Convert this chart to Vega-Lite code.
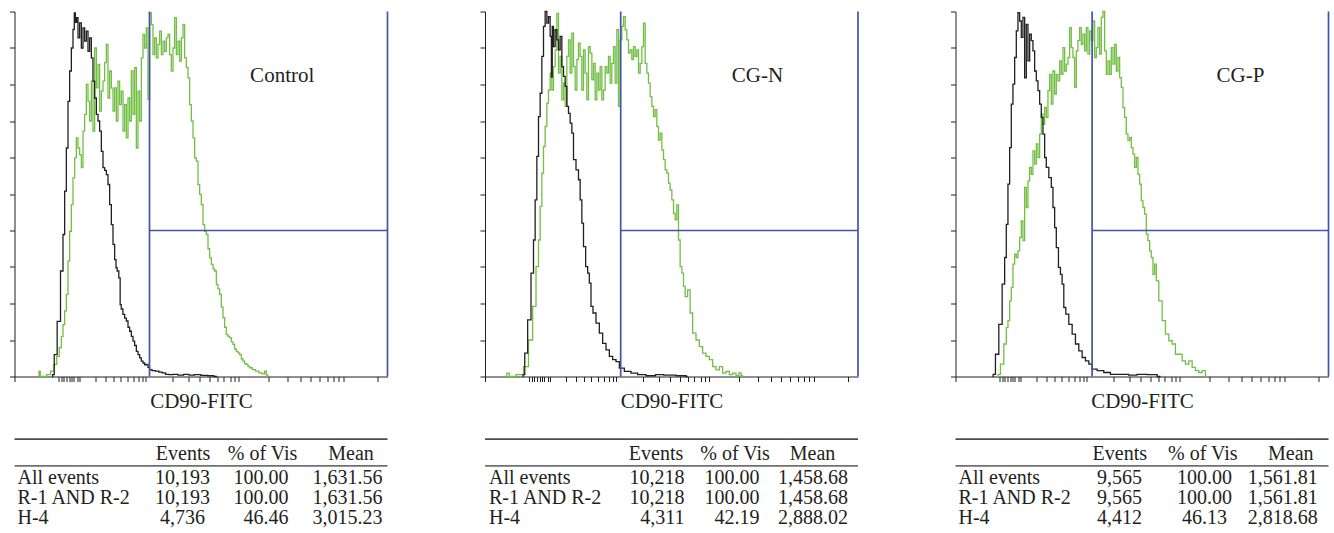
{
"$schema": "https://vega.github.io/schema/vega-lite/v6.json",
"padding": {"left": 8.5, "top": 8.5, "right": 2, "bottom": 2},
"autosize": {"type": "pad"},
"bounds": "flush",
"columns": 3,
"spacing": {"row": 62, "column": 97.5},
"config": {
  "view": {"stroke": null},
  "axis": {"grid": false, "labels": false, "domainColor": "#231f20", "tickColor": "#231f20", "tickSize": 5, "domainWidth": 1, "tickWidth": 1, "titleFont": "Liberation Serif", "titleFontSize": 21, "titleFontWeight": "normal", "titleColor": "#231f20"},
  "text": {"font": "Liberation Serif", "color": "#231f20"}
},
"datasets": {
"curves": [
{"panel":"Control","series":"isotype","channel":37.7,"count":0},
{"panel":"Control","series":"isotype","channel":38.5,"count":0.5},
{"panel":"Control","series":"isotype","channel":41,"count":6},
{"panel":"Control","series":"isotype","channel":44.3,"count":15.1},
{"panel":"Control","series":"isotype","channel":47.7,"count":28.9},
{"panel":"Control","series":"isotype","channel":49.3,"count":38.9},
{"panel":"Control","series":"isotype","channel":51,"count":50.8},
{"panel":"Control","series":"isotype","channel":52.7,"count":62.6},
{"panel":"Control","series":"isotype","channel":54.3,"count":75.4},
{"panel":"Control","series":"isotype","channel":56,"count":83.7},
{"panel":"Control","series":"isotype","channel":57.7,"count":90},
{"panel":"Control","series":"isotype","channel":59.3,"count":95.1},
{"panel":"Control","series":"isotype","channel":60.3,"count":99.6},
{"panel":"Control","series":"isotype","channel":61.5,"count":97},
{"panel":"Control","series":"isotype","channel":62.7,"count":98.3},
{"panel":"Control","series":"isotype","channel":64.3,"count":92.8},
{"panel":"Control","series":"isotype","channel":66,"count":96.9},
{"panel":"Control","series":"isotype","channel":67.7,"count":90},
{"panel":"Control","series":"isotype","channel":69.3,"count":95.5},
{"panel":"Control","series":"isotype","channel":71,"count":91.9},
{"panel":"Control","series":"isotype","channel":72.7,"count":94.6},
{"panel":"Control","series":"isotype","channel":74.3,"count":89.1},
{"panel":"Control","series":"isotype","channel":76,"count":92.8},
{"panel":"Control","series":"isotype","channel":77.7,"count":87.3},
{"panel":"Control","series":"isotype","channel":79.3,"count":80.9},
{"panel":"Control","series":"isotype","channel":81,"count":76.3},
{"panel":"Control","series":"isotype","channel":82.7,"count":71.8},
{"panel":"Control","series":"isotype","channel":84.3,"count":70},
{"panel":"Control","series":"isotype","channel":86,"count":67.2},
{"panel":"Control","series":"isotype","channel":87.7,"count":61.7},
{"panel":"Control","series":"isotype","channel":89.3,"count":57.2},
{"panel":"Control","series":"isotype","channel":91,"count":56.5},
{"panel":"Control","series":"isotype","channel":92.7,"count":55.3},
{"panel":"Control","series":"isotype","channel":94.3,"count":52.6},
{"panel":"Control","series":"isotype","channel":96,"count":47.1},
{"panel":"Control","series":"isotype","channel":97.7,"count":41.6},
{"panel":"Control","series":"isotype","channel":99.3,"count":36.2},
{"panel":"Control","series":"isotype","channel":101,"count":32},
{"panel":"Control","series":"isotype","channel":102,"count":29.8},
{"panel":"Control","series":"isotype","channel":103.3,"count":28.9},
{"panel":"Control","series":"isotype","channel":105.3,"count":27},
{"panel":"Control","series":"isotype","channel":106,"count":19.7},
{"panel":"Control","series":"isotype","channel":107.5,"count":18.5},
{"panel":"Control","series":"isotype","channel":109.3,"count":17},
{"panel":"Control","series":"isotype","channel":111,"count":16},
{"panel":"Control","series":"isotype","channel":112.7,"count":15.2},
{"panel":"Control","series":"isotype","channel":114.3,"count":13.5},
{"panel":"Control","series":"isotype","channel":116,"count":12.4},
{"panel":"Control","series":"isotype","channel":117.7,"count":11},
{"panel":"Control","series":"isotype","channel":119.3,"count":9.7},
{"panel":"Control","series":"isotype","channel":121,"count":8.5},
{"panel":"Control","series":"isotype","channel":122.7,"count":6.9},
{"panel":"Control","series":"isotype","channel":124.3,"count":6},
{"panel":"Control","series":"isotype","channel":126,"count":5.1},
{"panel":"Control","series":"isotype","channel":127.7,"count":4.2},
{"panel":"Control","series":"isotype","channel":129.3,"count":3.7},
{"panel":"Control","series":"isotype","channel":131,"count":3.2},
{"panel":"Control","series":"isotype","channel":132.7,"count":3.3},
{"panel":"Control","series":"isotype","channel":134.3,"count":2.5},
{"panel":"Control","series":"isotype","channel":136,"count":1.9},
{"panel":"Control","series":"isotype","channel":139,"count":1.6},
{"panel":"Control","series":"isotype","channel":142.7,"count":1.5},
{"panel":"Control","series":"isotype","channel":146,"count":1.2},
{"panel":"Control","series":"isotype","channel":149.3,"count":1},
{"panel":"Control","series":"isotype","channel":152.7,"count":0.6},
{"panel":"Control","series":"isotype","channel":156,"count":0.5},
{"panel":"Control","series":"isotype","channel":161,"count":0.6},
{"panel":"Control","series":"isotype","channel":166,"count":0.4},
{"panel":"Control","series":"isotype","channel":172,"count":0.6},
{"panel":"Control","series":"isotype","channel":177,"count":0.4},
{"panel":"Control","series":"isotype","channel":182.7,"count":0.5},
{"panel":"Control","series":"isotype","channel":190,"count":0.3},
{"panel":"Control","series":"isotype","channel":196,"count":0.2},
{"panel":"Control","series":"isotype","channel":202.7,"count":0},
{"panel":"Control","series":"CD90","channel":24,"count":0},
{"panel":"Control","series":"CD90","channel":25,"count":1.5},
{"panel":"Control","series":"CD90","channel":26.5,"count":0},
{"panel":"Control","series":"CD90","channel":30,"count":0},
{"panel":"Control","series":"CD90","channel":34.3,"count":0.5},
{"panel":"Control","series":"CD90","channel":38,"count":1.5},
{"panel":"Control","series":"CD90","channel":41,"count":3.3},
{"panel":"Control","series":"CD90","channel":43.5,"count":5.5},
{"panel":"Control","series":"CD90","channel":46,"count":7.9},
{"panel":"Control","series":"CD90","channel":47.7,"count":11},
{"panel":"Control","series":"CD90","channel":49.3,"count":14.2},
{"panel":"Control","series":"CD90","channel":51,"count":18},
{"panel":"Control","series":"CD90","channel":52.7,"count":22.5},
{"panel":"Control","series":"CD90","channel":54.3,"count":31.6},
{"panel":"Control","series":"CD90","channel":56,"count":39.8},
{"panel":"Control","series":"CD90","channel":57.7,"count":47.1},
{"panel":"Control","series":"CD90","channel":59.3,"count":54.4},
{"panel":"Control","series":"CD90","channel":61,"count":59.9},
{"panel":"Control","series":"CD90","channel":62.7,"count":65.4},
{"panel":"Control","series":"CD90","channel":64.3,"count":62.6},
{"panel":"Control","series":"CD90","channel":66,"count":60.8},
{"panel":"Control","series":"CD90","channel":67.7,"count":57.2},
{"panel":"Control","series":"CD90","channel":69.3,"count":67.2},
{"panel":"Control","series":"CD90","channel":71,"count":71.8},
{"panel":"Control","series":"CD90","channel":72.7,"count":80},
{"panel":"Control","series":"CD90","channel":74.3,"count":75.4},
{"panel":"Control","series":"CD90","channel":76,"count":70},
{"panel":"Control","series":"CD90","channel":77.7,"count":80.9},
{"panel":"Control","series":"CD90","channel":79.3,"count":67.2},
{"panel":"Control","series":"CD90","channel":81,"count":90},
{"panel":"Control","series":"CD90","channel":82.7,"count":79.1},
{"panel":"Control","series":"CD90","channel":84.3,"count":85.5},
{"panel":"Control","series":"CD90","channel":86,"count":72.7},
{"panel":"Control","series":"CD90","channel":87.7,"count":78.2},
{"panel":"Control","series":"CD90","channel":89.3,"count":80.9},
{"panel":"Control","series":"CD90","channel":91,"count":86},
{"panel":"Control","series":"CD90","channel":92.7,"count":91},
{"panel":"Control","series":"CD90","channel":94.3,"count":76.3},
{"panel":"Control","series":"CD90","channel":96,"count":83.7},
{"panel":"Control","series":"CD90","channel":97.7,"count":79},
{"panel":"Control","series":"CD90","channel":99.3,"count":72.7},
{"panel":"Control","series":"CD90","channel":101,"count":79.1},
{"panel":"Control","series":"CD90","channel":102.7,"count":70},
{"panel":"Control","series":"CD90","channel":104.3,"count":80.9},
{"panel":"Control","series":"CD90","channel":106,"count":74.5},
{"panel":"Control","series":"CD90","channel":107.7,"count":78.2},
{"panel":"Control","series":"CD90","channel":109.3,"count":67.2},
{"panel":"Control","series":"CD90","channel":111,"count":74.5},
{"panel":"Control","series":"CD90","channel":112.7,"count":65.4},
{"panel":"Control","series":"CD90","channel":114.3,"count":76.3},
{"panel":"Control","series":"CD90","channel":116,"count":70},
{"panel":"Control","series":"CD90","channel":117.7,"count":83.7},
{"panel":"Control","series":"CD90","channel":119.3,"count":71.8},
{"panel":"Control","series":"CD90","channel":121,"count":84.6},
{"panel":"Control","series":"CD90","channel":122.7,"count":62.6},
{"panel":"Control","series":"CD90","channel":124.3,"count":78.2},
{"panel":"Control","series":"CD90","channel":126,"count":70},
{"panel":"Control","series":"CD90","channel":127.7,"count":87.3},
{"panel":"Control","series":"CD90","channel":129.3,"count":93.7},
{"panel":"Control","series":"CD90","channel":131,"count":90},
{"panel":"Control","series":"CD90","channel":132.7,"count":95.5},
{"panel":"Control","series":"CD90","channel":134.3,"count":75.9},
{"panel":"Control","series":"CD90","channel":136,"count":99.6},
{"panel":"Control","series":"CD90","channel":137.7,"count":96.4},
{"panel":"Control","series":"CD90","channel":139.3,"count":88.2},
{"panel":"Control","series":"CD90","channel":141,"count":92.8},
{"panel":"Control","series":"CD90","channel":142.7,"count":87.3},
{"panel":"Control","series":"CD90","channel":144.3,"count":91},
{"panel":"Control","series":"CD90","channel":146,"count":94.6},
{"panel":"Control","series":"CD90","channel":147.7,"count":88.2},
{"panel":"Control","series":"CD90","channel":149.3,"count":91.9},
{"panel":"Control","series":"CD90","channel":151,"count":89.1},
{"panel":"Control","series":"CD90","channel":152.7,"count":92.8},
{"panel":"Control","series":"CD90","channel":154.3,"count":93.7},
{"panel":"Control","series":"CD90","channel":156,"count":88.2},
{"panel":"Control","series":"CD90","channel":157.7,"count":83.7},
{"panel":"Control","series":"CD90","channel":159.3,"count":90},
{"panel":"Control","series":"CD90","channel":161,"count":98.3},
{"panel":"Control","series":"CD90","channel":162.7,"count":88.2},
{"panel":"Control","series":"CD90","channel":164.3,"count":91.9},
{"panel":"Control","series":"CD90","channel":166,"count":86.4},
{"panel":"Control","series":"CD90","channel":167.7,"count":92.8},
{"panel":"Control","series":"CD90","channel":169.3,"count":96.4},
{"panel":"Control","series":"CD90","channel":171,"count":87.3},
{"panel":"Control","series":"CD90","channel":172.7,"count":84.6},
{"panel":"Control","series":"CD90","channel":174.3,"count":81.8},
{"panel":"Control","series":"CD90","channel":176,"count":74.5},
{"panel":"Control","series":"CD90","channel":177.7,"count":70},
{"panel":"Control","series":"CD90","channel":179.3,"count":65.4},
{"panel":"Control","series":"CD90","channel":181,"count":59.9},
{"panel":"Control","series":"CD90","channel":182.7,"count":59},
{"panel":"Control","series":"CD90","channel":184.3,"count":52.6},
{"panel":"Control","series":"CD90","channel":186,"count":49.9},
{"panel":"Control","series":"CD90","channel":187.7,"count":47.1},
{"panel":"Control","series":"CD90","channel":189.3,"count":41.6},
{"panel":"Control","series":"CD90","channel":191,"count":39.8},
{"panel":"Control","series":"CD90","channel":192.7,"count":38.9},
{"panel":"Control","series":"CD90","channel":194.3,"count":35},
{"panel":"Control","series":"CD90","channel":196,"count":32.5},
{"panel":"Control","series":"CD90","channel":197.7,"count":30.7},
{"panel":"Control","series":"CD90","channel":199.3,"count":29.5},
{"panel":"Control","series":"CD90","channel":201,"count":28.9},
{"panel":"Control","series":"CD90","channel":202.7,"count":25.2},
{"panel":"Control","series":"CD90","channel":204.3,"count":24},
{"panel":"Control","series":"CD90","channel":206,"count":22.5},
{"panel":"Control","series":"CD90","channel":207.7,"count":19},
{"panel":"Control","series":"CD90","channel":209.3,"count":16.1},
{"panel":"Control","series":"CD90","channel":211,"count":13.5},
{"panel":"Control","series":"CD90","channel":212.7,"count":11.5},
{"panel":"Control","series":"CD90","channel":214.3,"count":11},
{"panel":"Control","series":"CD90","channel":216,"count":10.6},
{"panel":"Control","series":"CD90","channel":217.7,"count":9.5},
{"panel":"Control","series":"CD90","channel":219.3,"count":8.8},
{"panel":"Control","series":"CD90","channel":221,"count":7.5},
{"panel":"Control","series":"CD90","channel":222.7,"count":6.9},
{"panel":"Control","series":"CD90","channel":224.3,"count":6.5},
{"panel":"Control","series":"CD90","channel":226,"count":6},
{"panel":"Control","series":"CD90","channel":227.7,"count":4.8},
{"panel":"Control","series":"CD90","channel":229.3,"count":4.2},
{"panel":"Control","series":"CD90","channel":231,"count":3.5},
{"panel":"Control","series":"CD90","channel":232.7,"count":3.3},
{"panel":"Control","series":"CD90","channel":234.3,"count":2.8},
{"panel":"Control","series":"CD90","channel":236,"count":2.4},
{"panel":"Control","series":"CD90","channel":239.3,"count":1.9},
{"panel":"Control","series":"CD90","channel":242.7,"count":1.5},
{"panel":"Control","series":"CD90","channel":246,"count":1},
{"panel":"Control","series":"CD90","channel":249.3,"count":0.7},
{"panel":"Control","series":"CD90","channel":251,"count":1.5},
{"panel":"Control","series":"CD90","channel":252.7,"count":0.4},
{"panel":"Control","series":"CD90","channel":254,"count":0},
{"panel":"CG-N","series":"isotype","channel":37.7,"count":0},
{"panel":"CG-N","series":"isotype","channel":38.5,"count":0.5},
{"panel":"CG-N","series":"isotype","channel":41,"count":6.4},
{"panel":"CG-N","series":"isotype","channel":44.3,"count":15.5},
{"panel":"CG-N","series":"isotype","channel":47.7,"count":28.3},
{"panel":"CG-N","series":"isotype","channel":49.3,"count":37.4},
{"panel":"CG-N","series":"isotype","channel":51,"count":48.4},
{"panel":"CG-N","series":"isotype","channel":52.7,"count":60.3},
{"panel":"CG-N","series":"isotype","channel":54.3,"count":71.2},
{"panel":"CG-N","series":"isotype","channel":56,"count":77.6},
{"panel":"CG-N","series":"isotype","channel":57.7,"count":87.7},
{"panel":"CG-N","series":"isotype","channel":59.3,"count":95.9},
{"panel":"CG-N","series":"isotype","channel":61,"count":100},
{"panel":"CG-N","series":"isotype","channel":62.7,"count":96.8},
{"panel":"CG-N","series":"isotype","channel":64.3,"count":98.6},
{"panel":"CG-N","series":"isotype","channel":66,"count":93.2},
{"panel":"CG-N","series":"isotype","channel":66.8,"count":82},
{"panel":"CG-N","series":"isotype","channel":67.7,"count":95.9},
{"panel":"CG-N","series":"isotype","channel":69.3,"count":90.4},
{"panel":"CG-N","series":"isotype","channel":71,"count":95},
{"panel":"CG-N","series":"isotype","channel":72.7,"count":92.2},
{"panel":"CG-N","series":"isotype","channel":74.3,"count":89.5},
{"panel":"CG-N","series":"isotype","channel":76,"count":93.2},
{"panel":"CG-N","series":"isotype","channel":77.7,"count":84.9},
{"panel":"CG-N","series":"isotype","channel":79.3,"count":82.2},
{"panel":"CG-N","series":"isotype","channel":81,"count":79.5},
{"panel":"CG-N","series":"isotype","channel":82.7,"count":74},
{"panel":"CG-N","series":"isotype","channel":84.3,"count":72.1},
{"panel":"CG-N","series":"isotype","channel":86,"count":69.4},
{"panel":"CG-N","series":"isotype","channel":87.7,"count":66.7},
{"panel":"CG-N","series":"isotype","channel":89.3,"count":59.4},
{"panel":"CG-N","series":"isotype","channel":92.7,"count":56.6},
{"panel":"CG-N","series":"isotype","channel":94.3,"count":53.9},
{"panel":"CG-N","series":"isotype","channel":96,"count":48.4},
{"panel":"CG-N","series":"isotype","channel":97.7,"count":42},
{"panel":"CG-N","series":"isotype","channel":99.3,"count":35.6},
{"panel":"CG-N","series":"isotype","channel":102,"count":30.1},
{"panel":"CG-N","series":"isotype","channel":103.3,"count":28.3},
{"panel":"CG-N","series":"isotype","channel":105.3,"count":25.6},
{"panel":"CG-N","series":"isotype","channel":106.7,"count":19.2},
{"panel":"CG-N","series":"isotype","channel":109.3,"count":17.4},
{"panel":"CG-N","series":"isotype","channel":112.7,"count":14.6},
{"panel":"CG-N","series":"isotype","channel":116,"count":11.9},
{"panel":"CG-N","series":"isotype","channel":119.3,"count":9.1},
{"panel":"CG-N","series":"isotype","channel":122.7,"count":7.3},
{"panel":"CG-N","series":"isotype","channel":126,"count":5.5},
{"panel":"CG-N","series":"isotype","channel":129.3,"count":4.6},
{"panel":"CG-N","series":"isotype","channel":132.7,"count":4.1},
{"panel":"CG-N","series":"isotype","channel":136,"count":2.3},
{"panel":"CG-N","series":"isotype","channel":142.7,"count":1.4},
{"panel":"CG-N","series":"isotype","channel":149.3,"count":0.9},
{"panel":"CG-N","series":"isotype","channel":156,"count":0.5},
{"panel":"CG-N","series":"isotype","channel":166,"count":0.2},
{"panel":"CG-N","series":"isotype","channel":175,"count":0.5},
{"panel":"CG-N","series":"isotype","channel":182.7,"count":0.4},
{"panel":"CG-N","series":"isotype","channel":199.3,"count":0.2},
{"panel":"CG-N","series":"isotype","channel":202.7,"count":0},
{"panel":"CG-N","series":"CD90","channel":21,"count":0},
{"panel":"CG-N","series":"CD90","channel":22.7,"count":0.9},
{"panel":"CG-N","series":"CD90","channel":26,"count":0},
{"panel":"CG-N","series":"CD90","channel":36,"count":0.5},
{"panel":"CG-N","series":"CD90","channel":41,"count":2.7},
{"panel":"CG-N","series":"CD90","channel":46,"count":10},
{"panel":"CG-N","series":"CD90","channel":49.3,"count":19.2},
{"panel":"CG-N","series":"CD90","channel":52.7,"count":30.1},
{"panel":"CG-N","series":"CD90","channel":54.3,"count":37.4},
{"panel":"CG-N","series":"CD90","channel":56,"count":46.6},
{"panel":"CG-N","series":"CD90","channel":57.7,"count":55.7},
{"panel":"CG-N","series":"CD90","channel":59.3,"count":63},
{"panel":"CG-N","series":"CD90","channel":61,"count":68.5},
{"panel":"CG-N","series":"CD90","channel":62.7,"count":74.9},
{"panel":"CG-N","series":"CD90","channel":64.3,"count":78.5},
{"panel":"CG-N","series":"CD90","channel":66,"count":83.1},
{"panel":"CG-N","series":"CD90","channel":67.7,"count":78.5},
{"panel":"CG-N","series":"CD90","channel":69.3,"count":84.9},
{"panel":"CG-N","series":"CD90","channel":71,"count":89.5},
{"panel":"CG-N","series":"CD90","channel":72.7,"count":99.5},
{"panel":"CG-N","series":"CD90","channel":74.3,"count":83.1},
{"panel":"CG-N","series":"CD90","channel":76,"count":87.7},
{"panel":"CG-N","series":"CD90","channel":77.7,"count":75.8},
{"panel":"CG-N","series":"CD90","channel":79.3,"count":80.4},
{"panel":"CG-N","series":"CD90","channel":81,"count":74},
{"panel":"CG-N","series":"CD90","channel":82.7,"count":87.7},
{"panel":"CG-N","series":"CD90","channel":84.3,"count":92.2},
{"panel":"CG-N","series":"CD90","channel":86,"count":83.1},
{"panel":"CG-N","series":"CD90","channel":87.7,"count":94.1},
{"panel":"CG-N","series":"CD90","channel":89.3,"count":84.9},
{"panel":"CG-N","series":"CD90","channel":91,"count":78.5},
{"panel":"CG-N","series":"CD90","channel":92.7,"count":86.8},
{"panel":"CG-N","series":"CD90","channel":94.3,"count":91.3},
{"panel":"CG-N","series":"CD90","channel":96,"count":87.7},
{"panel":"CG-N","series":"CD90","channel":97.7,"count":78.5},
{"panel":"CG-N","series":"CD90","channel":99.3,"count":89.5},
{"panel":"CG-N","series":"CD90","channel":101,"count":83.1},
{"panel":"CG-N","series":"CD90","channel":102.7,"count":75.8},
{"panel":"CG-N","series":"CD90","channel":104.3,"count":90.4},
{"panel":"CG-N","series":"CD90","channel":106,"count":88.6},
{"panel":"CG-N","series":"CD90","channel":107.7,"count":81.3},
{"panel":"CG-N","series":"CD90","channel":109.3,"count":85.8},
{"panel":"CG-N","series":"CD90","channel":111,"count":75.8},
{"panel":"CG-N","series":"CD90","channel":112.7,"count":83.1},
{"panel":"CG-N","series":"CD90","channel":114.3,"count":78.5},
{"panel":"CG-N","series":"CD90","channel":116,"count":84.9},
{"panel":"CG-N","series":"CD90","channel":117.7,"count":75.8},
{"panel":"CG-N","series":"CD90","channel":119.3,"count":78.5},
{"panel":"CG-N","series":"CD90","channel":121,"count":84.9},
{"panel":"CG-N","series":"CD90","channel":122.7,"count":83.1},
{"panel":"CG-N","series":"CD90","channel":124.3,"count":87.7},
{"panel":"CG-N","series":"CD90","channel":126,"count":80.4},
{"panel":"CG-N","series":"CD90","channel":127.7,"count":85.8},
{"panel":"CG-N","series":"CD90","channel":129.3,"count":90.4},
{"panel":"CG-N","series":"CD90","channel":131,"count":80.4},
{"panel":"CG-N","series":"CD90","channel":132.7,"count":95},
{"panel":"CG-N","series":"CD90","channel":134.3,"count":74},
{"panel":"CG-N","series":"CD90","channel":136,"count":92.2},
{"panel":"CG-N","series":"CD90","channel":137.7,"count":95.9},
{"panel":"CG-N","series":"CD90","channel":139.3,"count":98.6},
{"panel":"CG-N","series":"CD90","channel":141,"count":95},
{"panel":"CG-N","series":"CD90","channel":142.7,"count":92.2},
{"panel":"CG-N","series":"CD90","channel":144.3,"count":88.6},
{"panel":"CG-N","series":"CD90","channel":146,"count":89.5},
{"panel":"CG-N","series":"CD90","channel":147.7,"count":86.8},
{"panel":"CG-N","series":"CD90","channel":149.3,"count":90.4},
{"panel":"CG-N","series":"CD90","channel":151,"count":87.7},
{"panel":"CG-N","series":"CD90","channel":152.7,"count":89.5},
{"panel":"CG-N","series":"CD90","channel":154.3,"count":83.1},
{"panel":"CG-N","series":"CD90","channel":156,"count":85.8},
{"panel":"CG-N","series":"CD90","channel":157.7,"count":90.4},
{"panel":"CG-N","series":"CD90","channel":159.3,"count":96.8},
{"panel":"CG-N","series":"CD90","channel":161,"count":85.8},
{"panel":"CG-N","series":"CD90","channel":162.7,"count":83.1},
{"panel":"CG-N","series":"CD90","channel":164.3,"count":80.4},
{"panel":"CG-N","series":"CD90","channel":166,"count":76.7},
{"panel":"CG-N","series":"CD90","channel":167.7,"count":74},
{"panel":"CG-N","series":"CD90","channel":169.3,"count":71.2},
{"panel":"CG-N","series":"CD90","channel":171,"count":73.1},
{"panel":"CG-N","series":"CD90","channel":172.7,"count":68.5},
{"panel":"CG-N","series":"CD90","channel":174.3,"count":64.8},
{"panel":"CG-N","series":"CD90","channel":176,"count":66.7},
{"panel":"CG-N","series":"CD90","channel":177.7,"count":62.1},
{"panel":"CG-N","series":"CD90","channel":179.3,"count":59.4},
{"panel":"CG-N","series":"CD90","channel":181,"count":56.6},
{"panel":"CG-N","series":"CD90","channel":182.7,"count":55.7},
{"panel":"CG-N","series":"CD90","channel":184.3,"count":53},
{"panel":"CG-N","series":"CD90","channel":186,"count":51.1},
{"panel":"CG-N","series":"CD90","channel":187.7,"count":48.4},
{"panel":"CG-N","series":"CD90","channel":189.3,"count":44.7},
{"panel":"CG-N","series":"CD90","channel":191,"count":42.9},
{"panel":"CG-N","series":"CD90","channel":192.7,"count":47},
{"panel":"CG-N","series":"CD90","channel":194.3,"count":37.4},
{"panel":"CG-N","series":"CD90","channel":196,"count":30.1},
{"panel":"CG-N","series":"CD90","channel":197.7,"count":28.3},
{"panel":"CG-N","series":"CD90","channel":199.3,"count":24.7},
{"panel":"CG-N","series":"CD90","channel":201,"count":21.9},
{"panel":"CG-N","series":"CD90","channel":204.3,"count":23.7},
{"panel":"CG-N","series":"CD90","channel":206,"count":17.4},
{"panel":"CG-N","series":"CD90","channel":209.3,"count":11.9},
{"panel":"CG-N","series":"CD90","channel":212.7,"count":10},
{"panel":"CG-N","series":"CD90","channel":216,"count":8.2},
{"panel":"CG-N","series":"CD90","channel":219.3,"count":6.4},
{"panel":"CG-N","series":"CD90","channel":222.7,"count":5.5},
{"panel":"CG-N","series":"CD90","channel":226,"count":4.6},
{"panel":"CG-N","series":"CD90","channel":229.3,"count":2.7},
{"panel":"CG-N","series":"CD90","channel":232.7,"count":1.8},
{"panel":"CG-N","series":"CD90","channel":236,"count":2.7},
{"panel":"CG-N","series":"CD90","channel":239.3,"count":0.9},
{"panel":"CG-N","series":"CD90","channel":242.7,"count":1.4},
{"panel":"CG-N","series":"CD90","channel":246,"count":0.5},
{"panel":"CG-N","series":"CD90","channel":249.3,"count":0.9},
{"panel":"CG-N","series":"CD90","channel":252.7,"count":0.2},
{"panel":"CG-N","series":"CD90","channel":255,"count":1},
{"panel":"CG-N","series":"CD90","channel":257,"count":0.3},
{"panel":"CG-N","series":"CD90","channel":258,"count":0},
{"panel":"CG-P","series":"isotype","channel":37,"count":0},
{"panel":"CG-P","series":"isotype","channel":38.3,"count":0.6},
{"panel":"CG-P","series":"isotype","channel":41.6,"count":6.1},
{"panel":"CG-P","series":"isotype","channel":45,"count":14.3},
{"panel":"CG-P","series":"isotype","channel":48.3,"count":25.3},
{"panel":"CG-P","series":"isotype","channel":50,"count":32.6},
{"panel":"CG-P","series":"isotype","channel":51.6,"count":41.7},
{"panel":"CG-P","series":"isotype","channel":53.3,"count":52.7},
{"panel":"CG-P","series":"isotype","channel":55,"count":62.7},
{"panel":"CG-P","series":"isotype","channel":56.6,"count":74.6},
{"panel":"CG-P","series":"isotype","channel":58.3,"count":80.1},
{"panel":"CG-P","series":"isotype","channel":60,"count":87.4},
{"panel":"CG-P","series":"isotype","channel":61.6,"count":94.7},
{"panel":"CG-P","series":"isotype","channel":63.3,"count":99.7},
{"panel":"CG-P","series":"isotype","channel":65,"count":97.4},
{"panel":"CG-P","series":"isotype","channel":66.6,"count":92.9},
{"panel":"CG-P","series":"isotype","channel":68.3,"count":98.4},
{"panel":"CG-P","series":"isotype","channel":70,"count":81.8},
{"panel":"CG-P","series":"isotype","channel":71.6,"count":96.5},
{"panel":"CG-P","series":"isotype","channel":73.3,"count":86.5},
{"panel":"CG-P","series":"isotype","channel":75,"count":93.8},
{"panel":"CG-P","series":"isotype","channel":76.6,"count":92},
{"panel":"CG-P","series":"isotype","channel":78.3,"count":89.2},
{"panel":"CG-P","series":"isotype","channel":80,"count":83.7},
{"panel":"CG-P","series":"isotype","channel":81.6,"count":81},
{"panel":"CG-P","series":"isotype","channel":83.3,"count":78.3},
{"panel":"CG-P","series":"isotype","channel":85,"count":74.6},
{"panel":"CG-P","series":"isotype","channel":86.6,"count":71},
{"panel":"CG-P","series":"isotype","channel":88.3,"count":66.4},
{"panel":"CG-P","series":"isotype","channel":90,"count":60},
{"panel":"CG-P","series":"isotype","channel":91.6,"count":57.3},
{"panel":"CG-P","series":"isotype","channel":95,"count":54.5},
{"panel":"CG-P","series":"isotype","channel":96.6,"count":51.8},
{"panel":"CG-P","series":"isotype","channel":98.3,"count":46.3},
{"panel":"CG-P","series":"isotype","channel":100,"count":40.8},
{"panel":"CG-P","series":"isotype","channel":101.6,"count":35.3},
{"panel":"CG-P","series":"isotype","channel":104.3,"count":29.9},
{"panel":"CG-P","series":"isotype","channel":105.6,"count":28},
{"panel":"CG-P","series":"isotype","channel":107.6,"count":25.3},
{"panel":"CG-P","series":"isotype","channel":109,"count":18.9},
{"panel":"CG-P","series":"isotype","channel":111.6,"count":17.1},
{"panel":"CG-P","series":"isotype","channel":115,"count":14.3},
{"panel":"CG-P","series":"isotype","channel":118.3,"count":11.6},
{"panel":"CG-P","series":"isotype","channel":121.6,"count":8.9},
{"panel":"CG-P","series":"isotype","channel":125,"count":7},
{"panel":"CG-P","series":"isotype","channel":128.3,"count":5.2},
{"panel":"CG-P","series":"isotype","channel":131.6,"count":4.3},
{"panel":"CG-P","series":"isotype","channel":135,"count":3.4},
{"panel":"CG-P","series":"isotype","channel":138.3,"count":2},
{"panel":"CG-P","series":"isotype","channel":145,"count":1.6},
{"panel":"CG-P","series":"isotype","channel":151.6,"count":1.1},
{"panel":"CG-P","series":"isotype","channel":158.3,"count":0.6},
{"panel":"CG-P","series":"isotype","channel":168.3,"count":0.6},
{"panel":"CG-P","series":"isotype","channel":178,"count":0.4},
{"panel":"CG-P","series":"isotype","channel":185,"count":0.6},
{"panel":"CG-P","series":"isotype","channel":198.3,"count":0.5},
{"panel":"CG-P","series":"isotype","channel":205,"count":0},
{"panel":"CG-P","series":"CD90","channel":42,"count":0},
{"panel":"CG-P","series":"CD90","channel":43.3,"count":0.6},
{"panel":"CG-P","series":"CD90","channel":46.6,"count":3.4},
{"panel":"CG-P","series":"CD90","channel":50,"count":8.9},
{"panel":"CG-P","series":"CD90","channel":51.6,"count":13.4},
{"panel":"CG-P","series":"CD90","channel":53.3,"count":15.3},
{"panel":"CG-P","series":"CD90","channel":55,"count":20.7},
{"panel":"CG-P","series":"CD90","channel":56.6,"count":24.4},
{"panel":"CG-P","series":"CD90","channel":58.3,"count":30.8},
{"panel":"CG-P","series":"CD90","channel":60,"count":33.5},
{"panel":"CG-P","series":"CD90","channel":61.6,"count":32.6},
{"panel":"CG-P","series":"CD90","channel":63.3,"count":34.4},
{"panel":"CG-P","series":"CD90","channel":65,"count":38.1},
{"panel":"CG-P","series":"CD90","channel":66.6,"count":42.6},
{"panel":"CG-P","series":"CD90","channel":68.3,"count":37.2},
{"panel":"CG-P","series":"CD90","channel":70,"count":51.8},
{"panel":"CG-P","series":"CD90","channel":71.6,"count":46.3},
{"panel":"CG-P","series":"CD90","channel":73.3,"count":53.6},
{"panel":"CG-P","series":"CD90","channel":75,"count":57.3},
{"panel":"CG-P","series":"CD90","channel":76.6,"count":55.4},
{"panel":"CG-P","series":"CD90","channel":78.3,"count":61.8},
{"panel":"CG-P","series":"CD90","channel":80,"count":58.2},
{"panel":"CG-P","series":"CD90","channel":81.6,"count":63.7},
{"panel":"CG-P","series":"CD90","channel":83.3,"count":60},
{"panel":"CG-P","series":"CD90","channel":85,"count":66.4},
{"panel":"CG-P","series":"CD90","channel":86.6,"count":71.9},
{"panel":"CG-P","series":"CD90","channel":88.3,"count":69.1},
{"panel":"CG-P","series":"CD90","channel":90,"count":73.7},
{"panel":"CG-P","series":"CD90","channel":91.6,"count":71},
{"panel":"CG-P","series":"CD90","channel":93.3,"count":78.3},
{"panel":"CG-P","series":"CD90","channel":95,"count":82.8},
{"panel":"CG-P","series":"CD90","channel":96.6,"count":74.6},
{"panel":"CG-P","series":"CD90","channel":98.3,"count":83.7},
{"panel":"CG-P","series":"CD90","channel":100,"count":77.4},
{"panel":"CG-P","series":"CD90","channel":101.6,"count":82.8},
{"panel":"CG-P","series":"CD90","channel":103.3,"count":81},
{"panel":"CG-P","series":"CD90","channel":105,"count":86.5},
{"panel":"CG-P","series":"CD90","channel":106.6,"count":82.8},
{"panel":"CG-P","series":"CD90","channel":108.3,"count":90.1},
{"panel":"CG-P","series":"CD90","channel":110,"count":83.7},
{"panel":"CG-P","series":"CD90","channel":111.6,"count":85.6},
{"panel":"CG-P","series":"CD90","channel":113.3,"count":87.4},
{"panel":"CG-P","series":"CD90","channel":115,"count":95.6},
{"panel":"CG-P","series":"CD90","channel":116.6,"count":90.1},
{"panel":"CG-P","series":"CD90","channel":118.3,"count":87.4},
{"panel":"CG-P","series":"CD90","channel":120,"count":79.2},
{"panel":"CG-P","series":"CD90","channel":121.6,"count":89.2},
{"panel":"CG-P","series":"CD90","channel":123.3,"count":92},
{"panel":"CG-P","series":"CD90","channel":125,"count":95.6},
{"panel":"CG-P","series":"CD90","channel":126.6,"count":91},
{"panel":"CG-P","series":"CD90","channel":128.3,"count":93.8},
{"panel":"CG-P","series":"CD90","channel":130,"count":89.2},
{"panel":"CG-P","series":"CD90","channel":131.6,"count":95.6},
{"panel":"CG-P","series":"CD90","channel":133.3,"count":88.3},
{"panel":"CG-P","series":"CD90","channel":135,"count":94.7},
{"panel":"CG-P","series":"CD90","channel":136.6,"count":92},
{"panel":"CG-P","series":"CD90","channel":138.3,"count":97.4},
{"panel":"CG-P","series":"CD90","channel":140,"count":87.4},
{"panel":"CG-P","series":"CD90","channel":141.6,"count":90.1},
{"panel":"CG-P","series":"CD90","channel":143.3,"count":95.6},
{"panel":"CG-P","series":"CD90","channel":145,"count":88.3},
{"panel":"CG-P","series":"CD90","channel":146.6,"count":98.4},
{"panel":"CG-P","series":"CD90","channel":148.3,"count":100},
{"panel":"CG-P","series":"CD90","channel":150,"count":89.2},
{"panel":"CG-P","series":"CD90","channel":151.6,"count":82.8},
{"panel":"CG-P","series":"CD90","channel":153.3,"count":86.5},
{"panel":"CG-P","series":"CD90","channel":155,"count":82.8},
{"panel":"CG-P","series":"CD90","channel":156.6,"count":90.1},
{"panel":"CG-P","series":"CD90","channel":158.3,"count":85.6},
{"panel":"CG-P","series":"CD90","channel":160,"count":91},
{"panel":"CG-P","series":"CD90","channel":161.6,"count":83.7},
{"panel":"CG-P","series":"CD90","channel":163.3,"count":87.4},
{"panel":"CG-P","series":"CD90","channel":165,"count":81.9},
{"panel":"CG-P","series":"CD90","channel":166.6,"count":79.2},
{"panel":"CG-P","series":"CD90","channel":168.3,"count":73.7},
{"panel":"CG-P","series":"CD90","channel":170,"count":71},
{"panel":"CG-P","series":"CD90","channel":171.6,"count":66.4},
{"panel":"CG-P","series":"CD90","channel":173.3,"count":64.6},
{"panel":"CG-P","series":"CD90","channel":175,"count":65.5},
{"panel":"CG-P","series":"CD90","channel":176.6,"count":62.7},
{"panel":"CG-P","series":"CD90","channel":178.3,"count":60.9},
{"panel":"CG-P","series":"CD90","channel":180,"count":57.3},
{"panel":"CG-P","series":"CD90","channel":181.6,"count":60},
{"panel":"CG-P","series":"CD90","channel":183.3,"count":55.4},
{"panel":"CG-P","series":"CD90","channel":185,"count":52.7},
{"panel":"CG-P","series":"CD90","channel":186.6,"count":48.1},
{"panel":"CG-P","series":"CD90","channel":188.3,"count":46.3},
{"panel":"CG-P","series":"CD90","channel":190,"count":44.5},
{"panel":"CG-P","series":"CD90","channel":191.6,"count":39},
{"panel":"CG-P","series":"CD90","channel":193.3,"count":37.2},
{"panel":"CG-P","series":"CD90","channel":195,"count":34.4},
{"panel":"CG-P","series":"CD90","channel":196.6,"count":32.6},
{"panel":"CG-P","series":"CD90","channel":198.3,"count":28},
{"panel":"CG-P","series":"CD90","channel":200,"count":30.8},
{"panel":"CG-P","series":"CD90","channel":201.6,"count":26.2},
{"panel":"CG-P","series":"CD90","channel":205,"count":20.7},
{"panel":"CG-P","series":"CD90","channel":208.3,"count":15.3},
{"panel":"CG-P","series":"CD90","channel":211.6,"count":11.6},
{"panel":"CG-P","series":"CD90","channel":215,"count":9.8},
{"panel":"CG-P","series":"CD90","channel":218.3,"count":8.9},
{"panel":"CG-P","series":"CD90","channel":221.6,"count":6.1},
{"panel":"CG-P","series":"CD90","channel":225,"count":6.1},
{"panel":"CG-P","series":"CD90","channel":228.3,"count":4.3},
{"panel":"CG-P","series":"CD90","channel":231.6,"count":3.4},
{"panel":"CG-P","series":"CD90","channel":235,"count":4.3},
{"panel":"CG-P","series":"CD90","channel":238.3,"count":2.5},
{"panel":"CG-P","series":"CD90","channel":241.6,"count":1.6},
{"panel":"CG-P","series":"CD90","channel":245,"count":1.1},
{"panel":"CG-P","series":"CD90","channel":248.3,"count":1.6},
{"panel":"CG-P","series":"CD90","channel":251.6,"count":0}
],
"gates": [
{"panel":"Control","lo":135,"hi":373,"level":40},
{"panel":"CG-N","lo":135.7,"hi":373,"level":40},
{"panel":"CG-P","lo":136.6,"hi":373,"level":40}
],
"stats": [
{"panel":"Control","row":1,"gate":"All events","events":"10,193","pct":"100.00","mean":"1,631.56"},
{"panel":"Control","row":2,"gate":"R-1 AND R-2","events":"10,193","pct":"100.00","mean":"1,631.56"},
{"panel":"Control","row":3,"gate":"H-4","events":"4,736","pct":"46.46","mean":"3,015.23"},
{"panel":"CG-N","row":1,"gate":"All events","events":"10,218","pct":"100.00","mean":"1,458.68"},
{"panel":"CG-N","row":2,"gate":"R-1 AND R-2","events":"10,218","pct":"100.00","mean":"1,458.68"},
{"panel":"CG-N","row":3,"gate":"H-4","events":"4,311","pct":"42.19","mean":"2,888.02"},
{"panel":"CG-P","row":1,"gate":"All events","events":"9,565","pct":"100.00","mean":"1,561.81"},
{"panel":"CG-P","row":2,"gate":"R-1 AND R-2","events":"9,565","pct":"100.00","mean":"1,561.81"},
{"panel":"CG-P","row":3,"gate":"H-4","events":"4,412","pct":"46.13","mean":"2,818.68"}
]
},
"concat": [
{
 "width": 373, "height": 365,
 "encoding": {
  "x": {"type": "quantitative", "scale": {"domain": [0, 373], "nice": false, "zero": false}, "axis": {"values": [0,44,47,49,52,55,57,59,63,65,81,91,99,106,113,119,124,128,131,158,174,185,195,203,209,216,220,224,254,273,286,296,305,313,319,324,329,363], "title": "CD90-FITC", "titlePadding": 8}},
  "y": {"type": "quantitative", "scale": {"domain": [0, 100], "nice": false, "zero": false}, "axis": {"values": [0,10,20,30,40,50,60,70,80,90,100], "title": null}}
 },
 "layer": [
  {"data": {"name": "curves"}, "transform": [{"filter": "datum.panel === 'Control' && datum.series === 'CD90'"}], "mark": {"type": "line", "interpolate": "step", "color": "#72bf44", "strokeWidth": 1.3}, "encoding": {"x": {"field": "channel", "type": "quantitative"}, "y": {"field": "count", "type": "quantitative"}}},
  {"data": {"name": "curves"}, "transform": [{"filter": "datum.panel === 'Control' && datum.series === 'isotype'"}], "mark": {"type": "line", "interpolate": "step", "color": "#231f20", "strokeWidth": 1.3}, "encoding": {"x": {"field": "channel", "type": "quantitative"}, "y": {"field": "count", "type": "quantitative"}}},
  {"data": {"name": "gates"}, "transform": [{"filter": "datum.panel === 'Control'"}], "mark": {"type": "rule", "color": "#4453a5", "strokeWidth": 1.7}, "encoding": {"x": {"field": "lo", "type": "quantitative"}}},
  {"data": {"name": "gates"}, "transform": [{"filter": "datum.panel === 'Control'"}], "mark": {"type": "rule", "color": "#4453a5", "strokeWidth": 1.7}, "encoding": {"x": {"field": "hi", "type": "quantitative"}}},
  {"data": {"name": "gates"}, "transform": [{"filter": "datum.panel === 'Control'"}], "mark": {"type": "rule", "color": "#4453a5", "strokeWidth": 1.7}, "encoding": {"x": {"field": "lo", "type": "quantitative"}, "x2": {"field": "hi"}, "y": {"field": "level", "type": "quantitative"}}},
  {"data": {"values": [{"label": "Control"}]}, "mark": {"type": "text", "fontSize": 21, "align": "center", "baseline": "alphabetic"}, "encoding": {"x": {"datum": 267.7}, "y": {"datum": 80.6}, "text": {"field": "label"}}}
 ]
},
{
 "width": 373, "height": 365,
 "encoding": {
  "x": {"type": "quantitative", "scale": {"domain": [0, 373], "nice": false, "zero": false}, "axis": {"values": [0,44,47,49,52,55,57,59,63,65,81,91,99,106,113,119,124,128,131,158,174,185,195,203,209,216,220,224,254,273,286,296,305,313,319,324,329,363], "title": "CD90-FITC", "titlePadding": 8}},
  "y": {"type": "quantitative", "scale": {"domain": [0, 100], "nice": false, "zero": false}, "axis": {"values": [0,10,20,30,40,50,60,70,80,90,100], "title": null}}
 },
 "layer": [
  {"data": {"name": "curves"}, "transform": [{"filter": "datum.panel === 'CG-N' && datum.series === 'CD90'"}], "mark": {"type": "line", "interpolate": "step", "color": "#72bf44", "strokeWidth": 1.3}, "encoding": {"x": {"field": "channel", "type": "quantitative"}, "y": {"field": "count", "type": "quantitative"}}},
  {"data": {"name": "curves"}, "transform": [{"filter": "datum.panel === 'CG-N' && datum.series === 'isotype'"}], "mark": {"type": "line", "interpolate": "step", "color": "#231f20", "strokeWidth": 1.3}, "encoding": {"x": {"field": "channel", "type": "quantitative"}, "y": {"field": "count", "type": "quantitative"}}},
  {"data": {"name": "gates"}, "transform": [{"filter": "datum.panel === 'CG-N'"}], "mark": {"type": "rule", "color": "#4453a5", "strokeWidth": 1.7}, "encoding": {"x": {"field": "lo", "type": "quantitative"}}},
  {"data": {"name": "gates"}, "transform": [{"filter": "datum.panel === 'CG-N'"}], "mark": {"type": "rule", "color": "#4453a5", "strokeWidth": 1.7}, "encoding": {"x": {"field": "hi", "type": "quantitative"}}},
  {"data": {"name": "gates"}, "transform": [{"filter": "datum.panel === 'CG-N'"}], "mark": {"type": "rule", "color": "#4453a5", "strokeWidth": 1.7}, "encoding": {"x": {"field": "lo", "type": "quantitative"}, "x2": {"field": "hi"}, "y": {"field": "level", "type": "quantitative"}}},
  {"data": {"values": [{"label": "CG-N"}]}, "mark": {"type": "text", "fontSize": 21, "align": "center", "baseline": "alphabetic"}, "encoding": {"x": {"datum": 272.5}, "y": {"datum": 80.6}, "text": {"field": "label"}}}
 ]
},
{
 "width": 373, "height": 365,
 "encoding": {
  "x": {"type": "quantitative", "scale": {"domain": [0, 373], "nice": false, "zero": false}, "axis": {"values": [0,44,47,49,52,55,57,59,63,65,81,91,99,106,113,119,124,128,131,158,174,185,195,203,209,216,220,224,254,273,286,296,305,313,319,324,329,363], "title": "CD90-FITC", "titlePadding": 8}},
  "y": {"type": "quantitative", "scale": {"domain": [0, 100], "nice": false, "zero": false}, "axis": {"values": [0,10,20,30,40,50,60,70,80,90,100], "title": null}}
 },
 "layer": [
  {"data": {"name": "curves"}, "transform": [{"filter": "datum.panel === 'CG-P' && datum.series === 'CD90'"}], "mark": {"type": "line", "interpolate": "step", "color": "#72bf44", "strokeWidth": 1.3}, "encoding": {"x": {"field": "channel", "type": "quantitative"}, "y": {"field": "count", "type": "quantitative"}}},
  {"data": {"name": "curves"}, "transform": [{"filter": "datum.panel === 'CG-P' && datum.series === 'isotype'"}], "mark": {"type": "line", "interpolate": "step", "color": "#231f20", "strokeWidth": 1.3}, "encoding": {"x": {"field": "channel", "type": "quantitative"}, "y": {"field": "count", "type": "quantitative"}}},
  {"data": {"name": "gates"}, "transform": [{"filter": "datum.panel === 'CG-P'"}], "mark": {"type": "rule", "color": "#4453a5", "strokeWidth": 1.7}, "encoding": {"x": {"field": "lo", "type": "quantitative"}}},
  {"data": {"name": "gates"}, "transform": [{"filter": "datum.panel === 'CG-P'"}], "mark": {"type": "rule", "color": "#4453a5", "strokeWidth": 1.7}, "encoding": {"x": {"field": "hi", "type": "quantitative"}}},
  {"data": {"name": "gates"}, "transform": [{"filter": "datum.panel === 'CG-P'"}], "mark": {"type": "rule", "color": "#4453a5", "strokeWidth": 1.7}, "encoding": {"x": {"field": "lo", "type": "quantitative"}, "x2": {"field": "hi"}, "y": {"field": "level", "type": "quantitative"}}},
  {"data": {"values": [{"label": "CG-P"}]}, "mark": {"type": "text", "fontSize": 21, "align": "center", "baseline": "alphabetic"}, "encoding": {"x": {"datum": 285}, "y": {"datum": 80.6}, "text": {"field": "label"}}}
 ]
},
{
 "width": 373, "height": 91,
 "encoding": {
  "x": {"type": "quantitative", "scale": {"domain": [0, 373], "nice": false, "zero": false}, "axis": null},
  "y": {"type": "quantitative", "scale": {"domain": [-1.3, 3.3], "nice": false, "zero": false, "reverse": true}, "axis": null}
 },
 "layer": [
  {"data": {"values": [{"line": "top"}]}, "mark": {"type": "rule", "color": "#4d4d4d", "strokeWidth": 1.6}, "encoding": {"y": {"datum": -1.27}}},
  {"data": {"values": [{"line": "header"}]}, "mark": {"type": "rule", "color": "#707070", "strokeWidth": 1.8}, "encoding": {"y": {"datum": 0.08}}},
  {"data": {"values": [{"h": "Events"}]}, "mark": {"type": "text", "fontSize": 20, "align": "center", "baseline": "alphabetic"}, "encoding": {"x": {"datum": 168.5}, "y": {"datum": -0.22}, "text": {"field": "h"}}},
  {"data": {"values": [{"h": "% of Vis"}]}, "mark": {"type": "text", "fontSize": 20, "align": "center", "baseline": "alphabetic"}, "encoding": {"x": {"datum": 248}, "y": {"datum": -0.22}, "text": {"field": "h"}}},
  {"data": {"values": [{"h": "Mean"}]}, "mark": {"type": "text", "fontSize": 20, "align": "center", "baseline": "alphabetic"}, "encoding": {"x": {"datum": 336.5}, "y": {"datum": -0.22}, "text": {"field": "h"}}},
  {"data": {"name": "stats"}, "transform": [{"filter": "datum.panel === 'Control'"}], "mark": {"type": "text", "fontSize": 20, "align": "left", "baseline": "alphabetic"}, "encoding": {"x": {"datum": 3}, "y": {"field": "row", "type": "quantitative"}, "text": {"field": "gate"}}},
  {"data": {"name": "stats"}, "transform": [{"filter": "datum.panel === 'Control'"}], "mark": {"type": "text", "fontSize": 20, "align": "center", "baseline": "alphabetic"}, "encoding": {"x": {"datum": 168}, "y": {"field": "row", "type": "quantitative"}, "text": {"field": "events"}}},
  {"data": {"name": "stats"}, "transform": [{"filter": "datum.panel === 'Control'"}], "mark": {"type": "text", "fontSize": 20, "align": "right", "baseline": "alphabetic"}, "encoding": {"x": {"datum": 274}, "y": {"field": "row", "type": "quantitative"}, "text": {"field": "pct"}}},
  {"data": {"name": "stats"}, "transform": [{"filter": "datum.panel === 'Control'"}], "mark": {"type": "text", "fontSize": 20, "align": "center", "baseline": "alphabetic"}, "encoding": {"x": {"datum": 333}, "y": {"field": "row", "type": "quantitative"}, "text": {"field": "mean"}}}
 ]
},
{
 "width": 373, "height": 91,
 "encoding": {
  "x": {"type": "quantitative", "scale": {"domain": [0, 373], "nice": false, "zero": false}, "axis": null},
  "y": {"type": "quantitative", "scale": {"domain": [-1.3, 3.3], "nice": false, "zero": false, "reverse": true}, "axis": null}
 },
 "layer": [
  {"data": {"values": [{"line": "top"}]}, "mark": {"type": "rule", "color": "#4d4d4d", "strokeWidth": 1.6}, "encoding": {"y": {"datum": -1.27}}},
  {"data": {"values": [{"line": "header"}]}, "mark": {"type": "rule", "color": "#707070", "strokeWidth": 1.8}, "encoding": {"y": {"datum": 0.08}}},
  {"data": {"values": [{"h": "Events"}]}, "mark": {"type": "text", "fontSize": 20, "align": "center", "baseline": "alphabetic"}, "encoding": {"x": {"datum": 171}, "y": {"datum": -0.22}, "text": {"field": "h"}}},
  {"data": {"values": [{"h": "% of Vis"}]}, "mark": {"type": "text", "fontSize": 20, "align": "center", "baseline": "alphabetic"}, "encoding": {"x": {"datum": 250}, "y": {"datum": -0.22}, "text": {"field": "h"}}},
  {"data": {"values": [{"h": "Mean"}]}, "mark": {"type": "text", "fontSize": 20, "align": "center", "baseline": "alphabetic"}, "encoding": {"x": {"datum": 327.5}, "y": {"datum": -0.22}, "text": {"field": "h"}}},
  {"data": {"name": "stats"}, "transform": [{"filter": "datum.panel === 'CG-N'"}], "mark": {"type": "text", "fontSize": 20, "align": "left", "baseline": "alphabetic"}, "encoding": {"x": {"datum": 4}, "y": {"field": "row", "type": "quantitative"}, "text": {"field": "gate"}}},
  {"data": {"name": "stats"}, "transform": [{"filter": "datum.panel === 'CG-N'"}], "mark": {"type": "text", "fontSize": 20, "align": "right", "baseline": "alphabetic"}, "encoding": {"x": {"datum": 199.5}, "y": {"field": "row", "type": "quantitative"}, "text": {"field": "events"}}},
  {"data": {"name": "stats"}, "transform": [{"filter": "datum.panel === 'CG-N'"}], "mark": {"type": "text", "fontSize": 20, "align": "right", "baseline": "alphabetic"}, "encoding": {"x": {"datum": 274.5}, "y": {"field": "row", "type": "quantitative"}, "text": {"field": "pct"}}},
  {"data": {"name": "stats"}, "transform": [{"filter": "datum.panel === 'CG-N'"}], "mark": {"type": "text", "fontSize": 20, "align": "center", "baseline": "alphabetic"}, "encoding": {"x": {"datum": 328}, "y": {"field": "row", "type": "quantitative"}, "text": {"field": "mean"}}}
 ]
},
{
 "width": 373, "height": 91,
 "encoding": {
  "x": {"type": "quantitative", "scale": {"domain": [0, 373], "nice": false, "zero": false}, "axis": null},
  "y": {"type": "quantitative", "scale": {"domain": [-1.3, 3.3], "nice": false, "zero": false, "reverse": true}, "axis": null}
 },
 "layer": [
  {"data": {"values": [{"line": "top"}]}, "mark": {"type": "rule", "color": "#4d4d4d", "strokeWidth": 1.6}, "encoding": {"y": {"datum": -1.27}}},
  {"data": {"values": [{"line": "header"}]}, "mark": {"type": "rule", "color": "#707070", "strokeWidth": 1.8}, "encoding": {"y": {"datum": 0.08}}},
  {"data": {"values": [{"h": "Events"}]}, "mark": {"type": "text", "fontSize": 20, "align": "center", "baseline": "alphabetic"}, "encoding": {"x": {"datum": 164.3}, "y": {"datum": -0.22}, "text": {"field": "h"}}},
  {"data": {"values": [{"h": "% of Vis"}]}, "mark": {"type": "text", "fontSize": 20, "align": "center", "baseline": "alphabetic"}, "encoding": {"x": {"datum": 247.3}, "y": {"datum": -0.22}, "text": {"field": "h"}}},
  {"data": {"values": [{"h": "Mean"}]}, "mark": {"type": "text", "fontSize": 20, "align": "center", "baseline": "alphabetic"}, "encoding": {"x": {"datum": 335.3}, "y": {"datum": -0.22}, "text": {"field": "h"}}},
  {"data": {"name": "stats"}, "transform": [{"filter": "datum.panel === 'CG-P'"}], "mark": {"type": "text", "fontSize": 20, "align": "left", "baseline": "alphabetic"}, "encoding": {"x": {"datum": 3}, "y": {"field": "row", "type": "quantitative"}, "text": {"field": "gate"}}},
  {"data": {"name": "stats"}, "transform": [{"filter": "datum.panel === 'CG-P'"}], "mark": {"type": "text", "fontSize": 20, "align": "center", "baseline": "alphabetic"}, "encoding": {"x": {"datum": 164}, "y": {"field": "row", "type": "quantitative"}, "text": {"field": "events"}}},
  {"data": {"name": "stats"}, "transform": [{"filter": "datum.panel === 'CG-P'"}], "mark": {"type": "text", "fontSize": 20, "align": "center", "baseline": "alphabetic"}, "encoding": {"x": {"datum": 249}, "y": {"field": "row", "type": "quantitative"}, "text": {"field": "pct"}}},
  {"data": {"name": "stats"}, "transform": [{"filter": "datum.panel === 'CG-P'"}], "mark": {"type": "text", "fontSize": 20, "align": "center", "baseline": "alphabetic"}, "encoding": {"x": {"datum": 327.3}, "y": {"field": "row", "type": "quantitative"}, "text": {"field": "mean"}}}
 ]
}
]
}
